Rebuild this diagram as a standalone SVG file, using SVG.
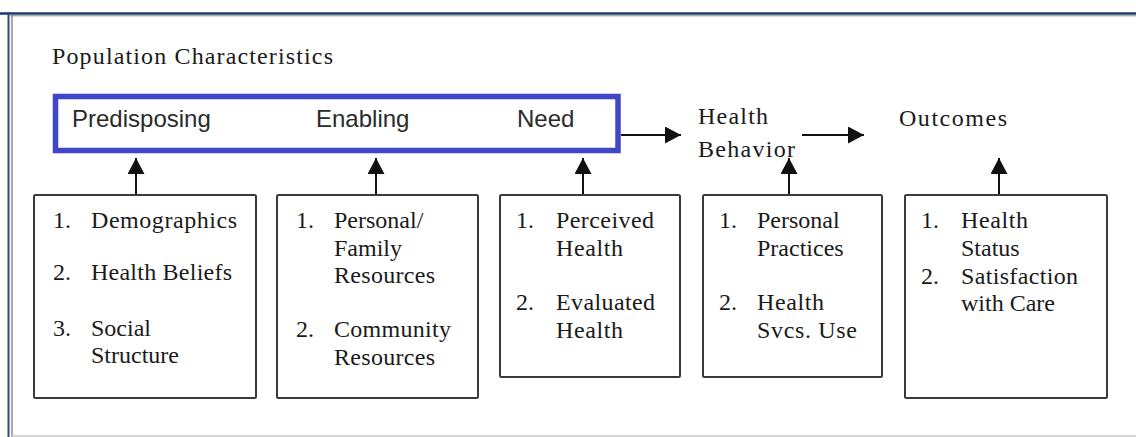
<svg xmlns="http://www.w3.org/2000/svg" width="1136" height="437" viewBox="0 0 1136 437">
<defs>
<style>
.serif{font-family:"Liberation Serif","Times New Roman",serif;font-size:24px;fill:#1a1a1a}
.sans{font-family:"Liberation Sans",Arial,sans-serif;font-size:24px;fill:#2a2a2a}
.box{fill:#fff;stroke:#3a3a3a;stroke-width:2}
.conn{stroke:#111;stroke-width:2;fill:none}
</style>
<marker id="ah" markerUnits="userSpaceOnUse" viewBox="0 0 16 17" markerWidth="16" markerHeight="17" refX="16" refY="8.5" orient="auto">
<path d="M0,0 L16,8.5 L0,17 z" fill="#111"/>
</marker>
</defs>
<rect width="1136" height="437" fill="#fff"/>
<g id="frame">
<line x1="0" y1="13.5" x2="1136" y2="13.5" stroke="#1c3a6e" stroke-width="2.5"/>
<line x1="10" y1="15.8" x2="1136" y2="15.8" stroke="#8a8a8a" stroke-width="1"/>
<line x1="8.5" y1="12" x2="8.5" y2="437" stroke="#2a4a86" stroke-width="2"/>
<line x1="12" y1="15" x2="12" y2="437" stroke="#8a8a8a" stroke-width="1.5"/>
<line x1="12" y1="436" x2="1136" y2="436" stroke="#c8c8c8" stroke-width="1.5"/>
</g>
<g id="title">
<text class="serif" x="52" y="64" textLength="281" lengthAdjust="spacing">Population Characteristics</text>
</g>
<g id="population-characteristics">
<rect x="55.5" y="96.5" width="562.5" height="54" fill="none" stroke="#4046c8" stroke-width="5.5"/>
<text class="sans" x="72" y="127">Predisposing</text>
<text class="sans" x="316" y="127">Enabling</text>
<text class="sans" x="517" y="127">Need</text>
</g>
<g id="health-behavior">
<text class="serif" x="698" y="124" textLength="70" lengthAdjust="spacing">Health</text>
<text class="serif" x="698" y="157" textLength="97" lengthAdjust="spacing">Behavior</text>
</g>
<g id="outcomes">
<text class="serif" x="899" y="126" textLength="108" lengthAdjust="spacing">Outcomes</text>
</g>
<g id="connectors">
<line class="conn" x1="621" y1="135" x2="681" y2="135" marker-end="url(#ah)"/>
<line class="conn" x1="802" y1="135" x2="864" y2="135" marker-end="url(#ah)"/>
<line class="conn" x1="136" y1="195" x2="136" y2="158" marker-end="url(#ah)"/>
<line class="conn" x1="376" y1="195" x2="376" y2="158" marker-end="url(#ah)"/>
<line class="conn" x1="583" y1="195" x2="583" y2="158" marker-end="url(#ah)"/>
<line class="conn" x1="789" y1="195" x2="789" y2="158" marker-end="url(#ah)"/>
<line class="conn" x1="999" y1="195" x2="999" y2="158" marker-end="url(#ah)"/>
</g>
<g id="box-predisposing">
<rect class="box" x="34" y="195" width="222" height="203" rx="1.5"/>
<text class="serif" x="53" y="228">1.</text>
<text class="serif" x="91" y="228" textLength="146" lengthAdjust="spacing">Demographics</text>
<text class="serif" x="53" y="280">2.</text>
<text class="serif" x="91" y="280" textLength="141" lengthAdjust="spacing">Health Beliefs</text>
<text class="serif" x="53" y="336">3.</text>
<text class="serif" x="91" y="336">Social</text>
<text class="serif" x="91" y="363">Structure</text>
</g>
<g id="box-enabling">
<rect class="box" x="277" y="195" width="201" height="203" rx="1.5"/>
<text class="serif" x="296" y="228">1.</text>
<text class="serif" x="334" y="228">Personal/</text>
<text class="serif" x="334" y="256">Family</text>
<text class="serif" x="334" y="283" textLength="101" lengthAdjust="spacing">Resources</text>
<text class="serif" x="296" y="337">2.</text>
<text class="serif" x="334" y="337" textLength="117" lengthAdjust="spacing">Community</text>
<text class="serif" x="334" y="365" textLength="101" lengthAdjust="spacing">Resources</text>
</g>
<g id="box-need">
<rect class="box" x="500" y="195" width="180" height="182" rx="1.5"/>
<text class="serif" x="516" y="228">1.</text>
<text class="serif" x="556" y="228" textLength="98" lengthAdjust="spacing">Perceived</text>
<text class="serif" x="556" y="256" textLength="67" lengthAdjust="spacing">Health</text>
<text class="serif" x="516" y="310">2.</text>
<text class="serif" x="556" y="310" textLength="99" lengthAdjust="spacing">Evaluated</text>
<text class="serif" x="556" y="338" textLength="67" lengthAdjust="spacing">Health</text>
</g>
<g id="box-health-behavior">
<rect class="box" x="703" y="195" width="179" height="182" rx="1.5"/>
<text class="serif" x="719" y="228">1.</text>
<text class="serif" x="757" y="228">Personal</text>
<text class="serif" x="757" y="256">Practices</text>
<text class="serif" x="719" y="310">2.</text>
<text class="serif" x="757" y="310" textLength="67" lengthAdjust="spacing">Health</text>
<text class="serif" x="757" y="338" textLength="100" lengthAdjust="spacing">Svcs. Use</text>
</g>
<g id="box-outcomes">
<rect class="box" x="905" y="195" width="202" height="203" rx="1.5"/>
<text class="serif" x="921" y="228">1.</text>
<text class="serif" x="961" y="228" textLength="67" lengthAdjust="spacing">Health</text>
<text class="serif" x="961" y="256">Status</text>
<text class="serif" x="921" y="284">2.</text>
<text class="serif" x="961" y="284" textLength="117" lengthAdjust="spacing">Satisfaction</text>
<text class="serif" x="961" y="311">with Care</text>
</g>
</svg>
